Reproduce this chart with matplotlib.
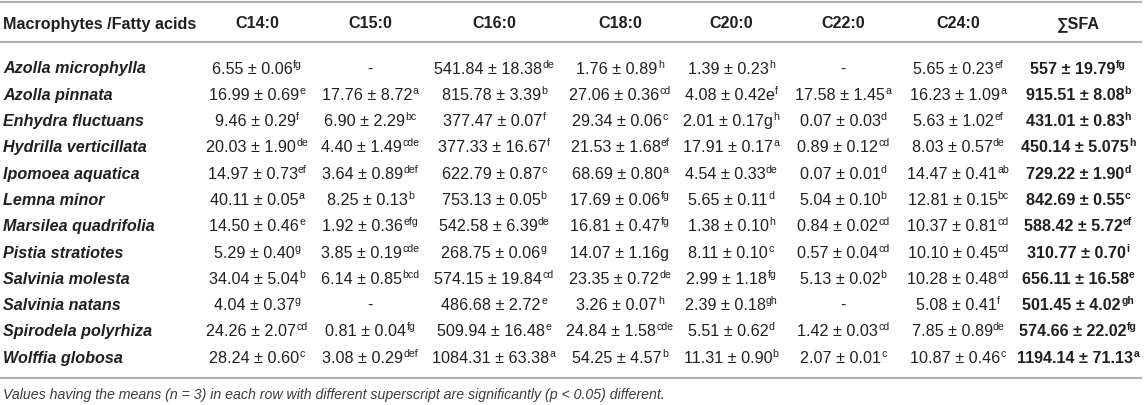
import matplotlib
matplotlib.use("Agg")
import matplotlib.pyplot as plt

plt.rcParams['font.family'] = ['Liberation Sans', 'DejaVu Sans']

# ---- data ----
header_first = "Macrophytes /Fatty acids"
columns = ["C14:0", "C15:0", "C16:0", "C18:0", "C20:0", "C22:0", "C24:0", "\u2211SFA"]
species = ["Azolla microphylla", "Azolla pinnata", "Enhydra fluctuans", "Hydrilla verticillata",
           "Ipomoea aquatica", "Lemna minor", "Marsilea quadrifolia", "Pistia stratiotes",
           "Salvinia molesta", "Salvinia natans", "Spirodela polyrhiza", "Wolffia globosa"]
c14 = ["6.55 ± 0.06^fg", "16.99 ± 0.69^e", "9.46 ± 0.29^f", "20.03 ± 1.90^de", "14.97 ± 0.73^ef",
       "40.11 ± 0.05^a", "14.50 ± 0.46^e", "5.29 ± 0.40^g", "34.04 ± 5.04^b", "4.04 ± 0.37^g",
       "24.26 ± 2.07^cd", "28.24 ± 0.60^c"]
c15 = ["-", "17.76 ± 8.72^a", "6.90 ± 2.29^bc", "4.40 ± 1.49^cde", "3.64 ± 0.89^def",
       "8.25 ± 0.13^b", "1.92 ± 0.36^efg", "3.85 ± 0.19^cde", "6.14 ± 0.85^bcd", "-",
       "0.81 ± 0.04^fg", "3.08 ± 0.29^def"]
c16 = ["541.84 ± 18.38^de", "815.78 ± 3.39^b", "377.47 ± 0.07^f", "377.33 ± 16.67^f",
       "622.79 ± 0.87^c", "753.13 ± 0.05^b", "542.58 ± 6.39^de", "268.75 ± 0.06^g",
       "574.15 ± 19.84^cd", "486.68 ± 2.72^e", "509.94 ± 16.48^e", "1084.31 ± 63.38^a"]
c18 = ["1.76 ± 0.89^h", "27.06 ± 0.36^cd", "29.34 ± 0.06^c", "21.53 ± 1.68^ef", "68.69 ± 0.80^a",
       "17.69 ± 0.06^fg", "16.81 ± 0.47^fg", "14.07 ± 1.16g", "23.35 ± 0.72^de", "3.26 ± 0.07^h",
       "24.84 ± 1.58^cde", "54.25 ± 4.57^b"]
c20 = ["1.39 ± 0.23^h", "4.08 ± 0.42e^f", "2.01 ± 0.17g^h", "17.91 ± 0.17^a", "4.54 ± 0.33^de",
       "5.65 ± 0.11^d", "1.38 ± 0.10^h", "8.11 ± 0.10^c", "2.99 ± 1.18^fg", "2.39 ± 0.18^gh",
       "5.51 ± 0.62^d", "11.31 ± 0.90^b"]
c22 = ["-", "17.58 ± 1.45^a", "0.07 ± 0.03^d", "0.89 ± 0.12^cd", "0.07 ± 0.01^d", "5.04 ± 0.10^b",
       "0.84 ± 0.02^cd", "0.57 ± 0.04^cd", "5.13 ± 0.02^b", "-", "1.42 ± 0.03^cd", "2.07 ± 0.01^c"]
c24 = ["5.65 ± 0.23^ef", "16.23 ± 1.09^a", "5.63 ± 1.02^ef", "8.03 ± 0.57^de", "14.47 ± 0.41^ab",
       "12.81 ± 0.15^bc", "10.37 ± 0.81^cd", "10.10 ± 0.45^cd", "10.28 ± 0.48^cd", "5.08 ± 0.41^f",
       "7.85 ± 0.89^de", "10.87 ± 0.46^c"]
sfa = ["557 ± 19.79^fg", "915.51 ± 8.08^b", "431.01 ± 0.83^h", "450.14 ± 5.075^h", "729.22 ± 1.90^d",
       "842.69 ± 0.55^c", "588.42 ± 5.72^ef", "310.77 ± 0.70^i", "656.11 ± 16.58^e",
       "501.45 ± 4.02^gh", "574.66 ± 22.02^fg", "1194.14 ± 71.13^a"]
footnote = ("Values having the means (n = 3) in each row with different superscript "
            "are significantly (p < 0.05) different.")

table_cols = [c14, c15, c16, c18, c20, c22, c24, sfa]

# ---- layout ----
W, H = 1144, 406
fig = plt.figure(figsize=(W / 100, H / 100), dpi=100)
ax = fig.add_axes([0, 0, 1, 1])
ax.set_xlim(0, W)
ax.set_ylim(H, 0)
ax.axis('off')

TXT = '#231f20'
LINE = '#b3b3b3'
FS = 11.6
SUP_FS = 7.6
col_x = [257, 370, 494, 620, 731, 843, 958, 1078]
name_x = 3
header_base = 28.5
row_base0 = 73.5
row_step = 26.3

for yl in (3, 43, 379):
    ax.plot([0, 1142], [yl, yl], color=LINE, lw=1.6, solid_capstyle='butt')

renderer = fig.canvas.get_renderer()

ax.text(name_x, header_base, header_first, fontsize=FS, fontweight='bold', color=TXT,
        ha='left', va='baseline')
for cx, lab in zip(col_x, columns):
    ax.text(cx, header_base, lab, fontsize=FS, fontweight='bold', color=TXT,
            ha='center', va='baseline')


def draw_cell(cx, yb, s, bold):
    fw = 'bold' if bold else 'normal'
    if '^' in s:
        main, sup = s.split('^')
    else:
        main, sup = s, ''
    t = ax.text(0, yb, main, fontsize=FS, fontweight=fw, color=TXT, ha='left', va='baseline')
    w1 = t.get_window_extent(renderer).width
    w2 = 0
    t2 = None
    if sup:
        t2 = ax.text(0, yb - 6.0, sup, fontsize=SUP_FS, fontweight=fw, color=TXT,
                     ha='left', va='baseline')
        w2 = t2.get_window_extent(renderer).width
    x0 = cx - (w1 + w2) / 2
    t.set_x(x0)
    if t2 is not None:
        t2.set_x(x0 + w1 + 0.3)


for i, sp in enumerate(species):
    yb = row_base0 + i * row_step
    ax.text(name_x, yb, sp, fontsize=FS, fontweight='bold', fontstyle='italic', color=TXT,
            ha='left', va='baseline')
    for j, (cx, col) in enumerate(zip(col_x, table_cols)):
        draw_cell(cx, yb, col[i], bold=(j == len(table_cols) - 1))

ax.text(name_x, 399, footnote, fontsize=10.2, fontstyle='italic', color='#3c3c3c',
        ha='left', va='baseline')

fig.savefig('out.png', dpi=100)
